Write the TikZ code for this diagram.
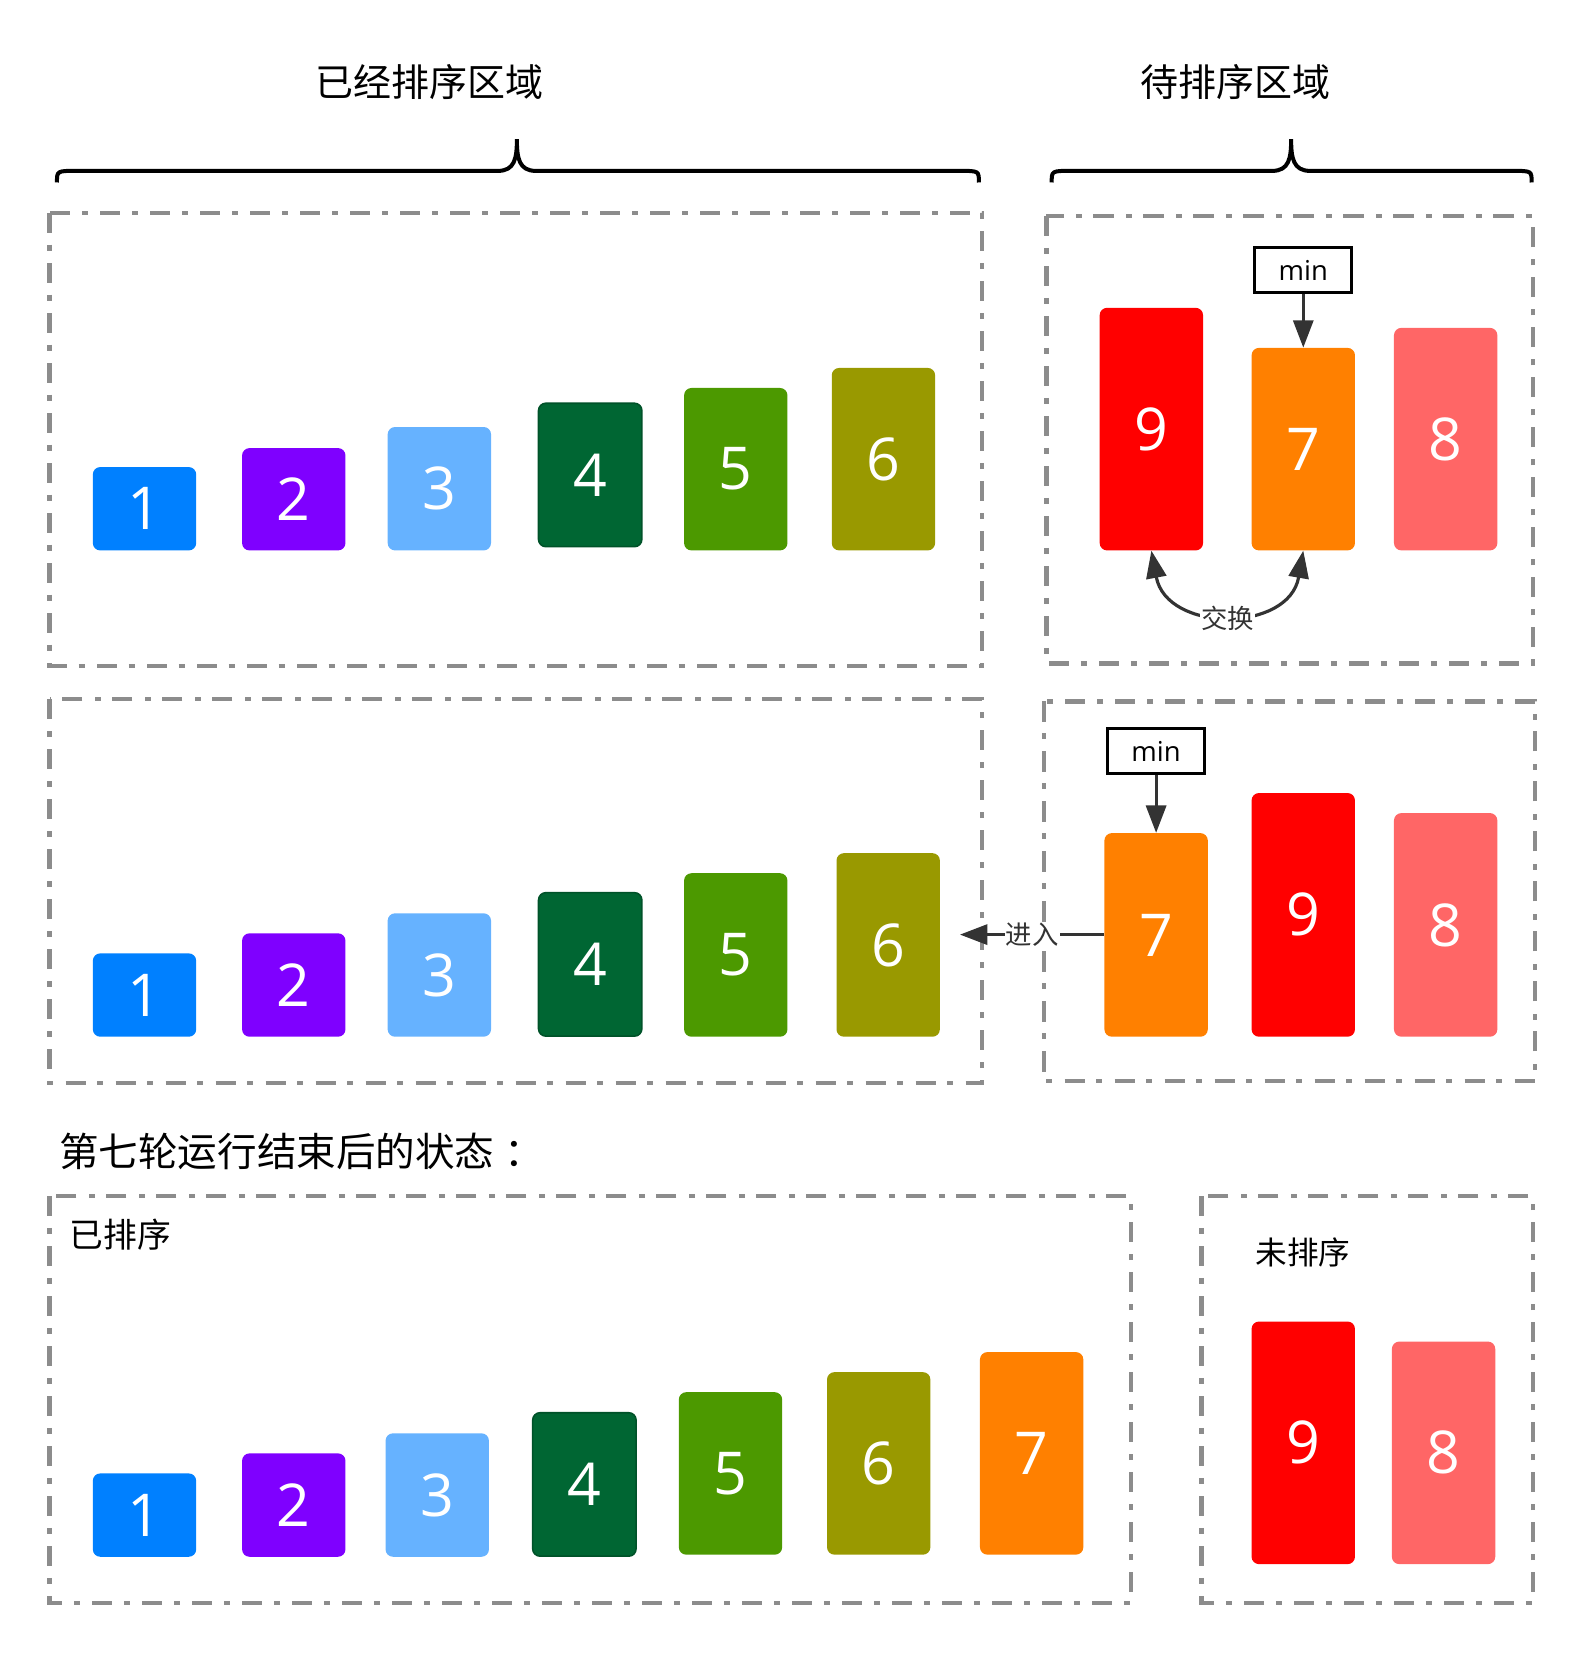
\documentclass[tikz,border=0pt]{standalone}
\usepackage{fontspec}
\setmainfont{Open Sans}
\newfontfamily\cjk{Noto Sans CJK SC}
\usetikzlibrary{arrows.meta,positioning}
\definecolor{bkBlue}  {RGB}{  0,128,255}
\definecolor{bkPurple}{RGB}{127,  0,255}
\definecolor{bkSky}   {RGB}{102,178,255}
\definecolor{bkForest}{RGB}{  0,102, 51}
\definecolor{bkGreen} {RGB}{ 76,153,  0}
\definecolor{bkOlive} {RGB}{153,153,  0}
\definecolor{bkOrange}{RGB}{255,128,  0}
\definecolor{bkRed}   {RGB}{255,  0,  0}
\definecolor{bkPink}  {RGB}{255,102,102}
\definecolor{bkGrey}  {RGB}{140,140,140}
\definecolor{bkInk}   {RGB}{ 51, 51, 51}

\begin{document}
\begin{tikzpicture}[
  x=1pt,y=-1pt,
  bar/.style={rounded corners=7pt,minimum width=98pt,anchor=south,inner sep=0pt,
              text=white,font=\fontsize{56}{60}\selectfont},
  zone/.style={draw=bkGrey,line width=4pt,
               dash pattern=on 19pt off 11pt on 5.7pt off 11.7pt},
  brace/.style={draw=black,line width=3.8pt},
  title/.style={font=\cjk\fontsize{36}{40}\selectfont,inner sep=0pt},
  minbox/.style={draw=black,line width=3pt,minimum width=92pt,minimum height=42pt,
                 inner sep=0pt,font=\fontsize{26}{28}\selectfont},
  link/.style={draw=bkInk,line width=3pt,-{Triangle[length=26pt,width=19pt]}},
  tag/.style={fill=white,text=bkInk,inner sep=1pt,font=\cjk\fontsize{25}{27}\selectfont}
]
\useasboundingbox (0,0) rectangle (1504,1568);

% headings and braces
\node[title] (tSorted)   at (407,78)  {已经排序区域};
\node[title] (tUnsorted) at (1171,78) {待排序区域};
\draw[brace] (54,173) .. controls (54,162) .. (72,162) -- (472,162)
  .. controls (488,162) and (490,150) .. (490,132)
  .. controls (490,150) and (492,162) .. (508,162) -- (910,162)
  .. controls (928,162) .. (928,173);
\draw[brace] (997,173) .. controls (997,162) .. (1015,162) -- (1206,162)
  .. controls (1222,162) and (1224,150) .. (1224,132)
  .. controls (1224,150) and (1226,162) .. (1242,162) -- (1434,162)
  .. controls (1452,162) .. (1452,173);

% dashed regions
\draw[zone] (47,202) rectangle (931,631);
\draw[zone] (992,205) rectangle (1453,629);
\draw[zone] (47,663) rectangle (931,1027);
\draw[zone] (990,665) rectangle (1455,1025);
\draw[zone] (47,1134) rectangle (1072,1520);
\draw[zone] (1139,1134) rectangle (1453,1520);

% first pass
\node[bar,fill=bkBlue,  minimum height=79pt]  (A1) at (137,522)   {1};
\node[bar,fill=bkPurple,minimum height=97pt]  (A2) at (278.5,522) {2};
\node[bar,fill=bkSky,   minimum height=117pt] (A3) at (416.5,522) {3};
\node[bar,fill=bkForest,draw=bkForest!80!black,line width=1.5pt,
      minimum height=136pt] (A4) at (559.5,519) {4};
\node[bar,fill=bkGreen, minimum height=154pt] (A5) at (697.5,522) {5};
\node[bar,fill=bkOlive, minimum height=173pt] (A6) at (837.5,522) {6};
\node[bar,fill=bkRed,   minimum height=230pt] (A9) at (1091.5,522) {9};
\node[bar,fill=bkOrange,minimum height=192pt] (A7) at (1235.5,522) {7};
\node[bar,fill=bkPink,  minimum height=211pt] (A8) at (1370.5,522) {8};
\node[minbox] (minA) at (1235.5,256) {min};
\draw[link] (minA) -- (A7);
\draw[draw=bkInk,line width=3pt,
      {Triangle[length=26pt,width=19pt]}-{Triangle[length=26pt,width=19pt]}]
  (A9.south) .. controls (1106,600) and (1222,600) .. (A7.south)
  node[tag,pos=0.5,yshift=-6pt] (swap) {交换};

% second pass
\node[bar,fill=bkBlue,  minimum height=79pt]  (B1) at (137,983)   {1};
\node[bar,fill=bkPurple,minimum height=98pt]  (B2) at (278.5,983) {2};
\node[bar,fill=bkSky,   minimum height=117pt] (B3) at (416.5,983) {3};
\node[bar,fill=bkForest,draw=bkForest!80!black,line width=1.5pt,
      minimum height=136pt] (B4) at (559.5,983) {4};
\node[bar,fill=bkGreen, minimum height=155pt] (B5) at (697.5,983) {5};
\node[bar,fill=bkOlive, minimum height=174pt] (B6) at (842,983)   {6};
\node[bar,fill=bkOrange,minimum height=193pt] (B7) at (1096,983)  {7};
\node[bar,fill=bkRed,   minimum height=231pt] (B9) at (1235.5,983) {9};
\node[bar,fill=bkPink,  minimum height=212pt] (B8) at (1370.5,983) {8};
\node[minbox] (minB) at (1096,712) {min};
\draw[link] (minB) -- (B7);
\coordinate (enter) at (910,886);
\draw[link] (B7.west |- enter) -- (enter) node[tag,pos=0.5] (move) {进入};

% after round seven
\node[title,anchor=west,font=\cjk\fontsize{37.5}{40}\selectfont] (tRound)
  at (56,1092) {第七轮运行结束后的状态\kern10pt：};
\node[title,anchor=west,font=\cjk\fontsize{32}{36}\selectfont] (tDone) at (66,1170) {已排序};
\node[title,anchor=west,font=\cjk\fontsize{30}{34}\selectfont] (tLeft) at (1190,1187) {未排序};
\node[bar,fill=bkBlue,  minimum height=79pt]  (C1) at (137,1476)   {1};
\node[bar,fill=bkPurple,minimum height=98pt]  (C2) at (278.5,1476) {2};
\node[bar,fill=bkSky,   minimum height=117pt] (C3) at (414.5,1476) {3};
\node[bar,fill=bkForest,draw=bkForest!80!black,line width=1.5pt,
      minimum height=136pt] (C4) at (554,1476) {4};
\node[bar,fill=bkGreen, minimum height=154pt] (C5) at (692.5,1474) {5};
\node[bar,fill=bkOlive, minimum height=173pt] (C6) at (833,1474)   {6};
\node[bar,fill=bkOrange,minimum height=192pt] (C7) at (978,1474)   {7};
\node[bar,fill=bkRed,   minimum height=230pt] (C9) at (1235.5,1483) {9};
\node[bar,fill=bkPink,  minimum height=211pt] (C8) at (1368.5,1483) {8};
\end{tikzpicture}
\end{document}
